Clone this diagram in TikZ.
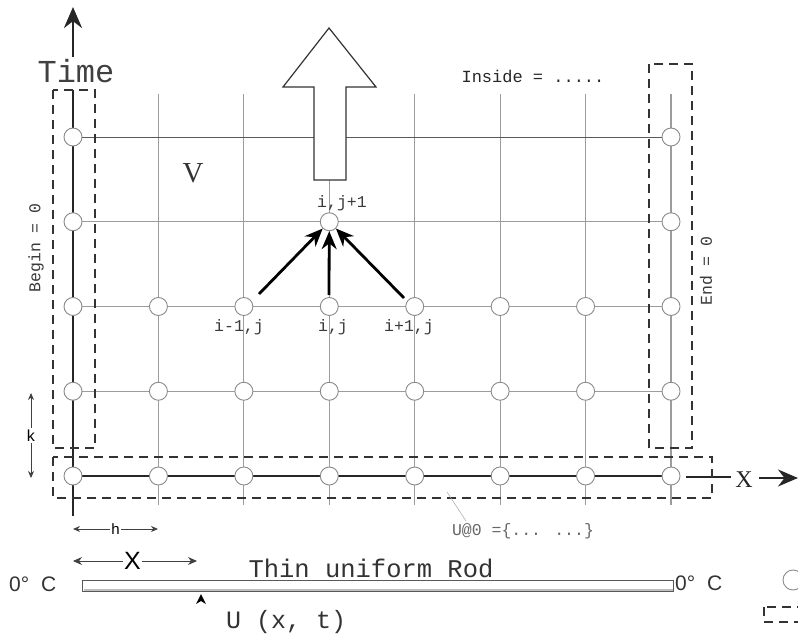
\documentclass[tikz,border=0pt]{standalone}
\usepackage{fontspec}
\setmainfont{Liberation Serif}
\newfontfamily\monofont{Liberation Mono}
\newfontfamily\sansfont{Liberation Sans}
\usetikzlibrary{arrows.meta}
\definecolor{gridgray}{HTML}{9C9C9C}
\definecolor{rowdark}{HTML}{5A5A5A}
\definecolor{boxgray}{HTML}{333333}
\definecolor{ptgray}{HTML}{8A8A8A}
\definecolor{labelgray}{HTML}{3A3A3A}
\tikzset{
  gridline/.style={draw=gridgray, line width=1.1pt},
  toprow/.style={draw=rowdark, line width=1pt},
  axisline/.style={draw=black!85, line width=2.8pt},
  gridpt/.style={circle, draw=ptgray, fill=white, line width=0.9pt, minimum size=18pt, inner sep=0pt},
  dashbox/.style={draw=boxgray, line width=1.8pt, dash pattern=on 9pt off 6pt},
  smalllbl/.style={font=\monofont\fontsize{16.5}{18}\selectfont, text=labelgray, inner sep=0pt},
  dimline/.style={draw=black!75, line width=0.8pt, {Stealth[length=7pt,width=6pt]}-{Stealth[length=7pt,width=6pt]}},
  steparrow/.style={draw=black, line width=2.8pt, -{Stealth[length=18pt,width=15pt]}},
  bigarrow/.style={draw=black!80, line width=1.2pt, fill=white, line join=miter},
}
\begin{document}
\begin{tikzpicture}[x=1pt,y=-1pt]
\path[use as bounding box] (0,0) rectangle (798,634);

% lattice points (column c, time row r)
\foreach \c in {0,...,7} {
  \foreach \r in {0,...,4} {
    \coordinate (g-\c-\r) at ({73+85.43*\c},{476-84.75*\r});
  }
  \coordinate (t-\c) at ({73+85.43*\c},94);
  \coordinate (b-\c) at ({73+85.43*\c},505);
}

% grid lines
\foreach \c in {1,...,7} \draw[gridline] (t-\c) -- (b-\c);
\foreach \r in {1,2,3} \draw[gridline] (g-0-\r) -- (g-7-\r);
\draw[toprow] (g-0-4) -- (g-7-4);

% time axis
\coordinate (time-tip) at (73,7);
\coordinate (time-tail) at (73,57);
\draw[axisline, -{Stealth[length=21pt,width=18pt]}] (time-tail) -- (time-tip);
\coordinate (axis-top) at (73,90);
\coordinate (axis-bot) at (73,516);
\draw[axisline] (axis-top) -- (axis-bot);

% space axis
\coordinate (x-end1) at (680,476);
\coordinate (x-start2) at (686,477);
\coordinate (x-end2) at (731,477);
\coordinate (x-tail) at (759,478);
\coordinate (x-tip) at (798,478);
\draw[axisline] (g-0-0) -- (x-end1);
\draw[axisline, line width=2.2pt] (x-start2) -- (x-end2);
\draw[axisline, line width=2.2pt, -{Stealth[length=20pt,width=17pt]}] (x-tail) -- (x-tip);
\node[font=\fontsize{24}{24}\selectfont, anchor=base, inner sep=0pt, text=black!85] (xlabel) at (744,487) {X};

% boundary and initial-value regions
\draw[dashbox] (53,90) rectangle (95,448);
\draw[dashbox] (649,64) rectangle (692,448);
\draw[dashbox] (53,457) rectangle (712,498);

% lattice nodes
\foreach \c in {0,...,7} {
  \foreach \r in {0,1,2} {
    \node[gridpt] (p-\c-\r) at (g-\c-\r) {};
  }
}
\node[gridpt] (p-0-3) at (g-0-3) {};
\node[gridpt] (p-3-3) at (g-3-3) {};
\node[gridpt] (p-7-3) at (g-7-3) {};
\node[gridpt] (p-0-4) at (g-0-4) {};
\node[gridpt] (p-7-4) at (g-7-4) {};

% time-stepping direction
\draw[bigarrow] (314,180) -- (346,180) -- (346,87) -- (376,87) -- (329,28) -- (283,87) -- (314,87) -- cycle;

% stencil arrows
\coordinate (from-left) at (259,294);
\coordinate (from-mid) at (329,295);
\coordinate (from-right) at (404,298);
\draw[steparrow] (from-left) -- (p-3-3);
\draw[steparrow] (from-mid) -- (p-3-3);
\draw[steparrow] (from-right) -- (p-3-3);

% labels
\node[font=\monofont\fontsize{32}{32}\selectfont, text=black!75, anchor=base, inner sep=0pt] (timelbl) at (76,83) {Time};
\node[font=\fontsize{29}{29}\selectfont, text=black!80, anchor=base, inner sep=0pt] (vlbl) at (193,182) {V};
\node[font=\monofont\fontsize{17}{18}\selectfont, text=black!85, anchor=base, inner sep=0pt] (inside) at (533,82) {Inside = .....};
\node[smalllbl, anchor=base] (lbl-up) at (342,207) {i,j+1};
\node[smalllbl, anchor=base] (lbl-l) at (239,331) {i-1,j};
\node[smalllbl, anchor=base] (lbl-m) at (333,331) {i,j};
\node[smalllbl, anchor=base] (lbl-r) at (409,331) {i+1,j};
\node[smalllbl, rotate=90] (beginlbl) at (36,248) {Begin = 0};
\node[smalllbl, rotate=90] (endlbl) at (706,271) {End = 0};

% initial condition note
\node[smalllbl, text=black!60, anchor=base] (u0lbl) at (523,535) {U@0 =\{... ...\}};
\coordinate (lead-a) at (447,492);
\coordinate (lead-b) at (466,521);
\draw[draw=black!35, line width=0.5pt] (lead-a) -- (lead-b);

% step sizes
\coordinate (k-top) at (31,393);
\coordinate (k-bot) at (31,478);
\draw[dimline] (k-top) -- (k-bot) node[midway, fill=white, inner sep=1.5pt, font=\sansfont\fontsize{16}{16}\selectfont] (klbl) {k};
\coordinate (h-left) at (73,529);
\coordinate (h-right) at (158,529);
\draw[dimline] (h-left) -- (h-right) node[midway, fill=white, inner sep=1.5pt, font=\sansfont\fontsize{15}{15}\selectfont] (hlbl) {h};
\coordinate (X-left) at (73,561);
\coordinate (X-right) at (197,561);
\draw[draw=black!75, line width=0.9pt, {Stealth[length=9pt,width=8pt]}-{Stealth[length=9pt,width=8pt]}] (X-left) -- (X-right) node[pos=0.48, fill=white, inner sep=1.5pt, font=\sansfont\fontsize{25}{25}\selectfont] (Xlbl) {X};

% the rod
\node[draw=black!65, fill=white, line width=1pt, minimum width=591pt, minimum height=11pt, inner sep=0pt, anchor=north west] (rod) at (82,580) {};
\draw[draw=black!25, line width=1.6pt] ([xshift=1.5pt,yshift=2pt]rod.south west) -- ([xshift=-1.5pt,yshift=2pt]rod.south east);
\node[font=\monofont\fontsize{25.5}{26}\selectfont, text=black!80, anchor=base, inner sep=0pt] (rodlbl) at (371,577) {Thin uniform Rod};
\node[font=\sansfont\fontsize{21}{21}\selectfont, text=black!80, anchor=base west, inner sep=0pt] (tleft) at (9,591) {0°\hspace{6pt} C};
\node[font=\sansfont\fontsize{21}{21}\selectfont, text=black!80, anchor=base west, inner sep=0pt] (tright) at (675,590) {0°\hspace{6pt} C};
\coordinate (probe) at (201,594);
\fill[black] (probe) -- ++(5,10) -- ++(-5,-3) -- ++(-5,3) -- cycle;
\node[font=\monofont\fontsize{25}{25}\selectfont, text=black!80, anchor=base west, inner sep=0pt] (ulbl) at (226,628) {U (x, t)};

% key symbols at the right edge
\begin{scope}
\clip (0,0) rectangle (798,634);
\node[circle, draw=ptgray, line width=0.9pt, minimum size=20pt, inner sep=0pt] (keypt) at (793,580) {};
\draw[dashbox, line width=1.5pt] (764,607) rectangle (815,622);
\end{scope}
\end{tikzpicture}
\end{document}
